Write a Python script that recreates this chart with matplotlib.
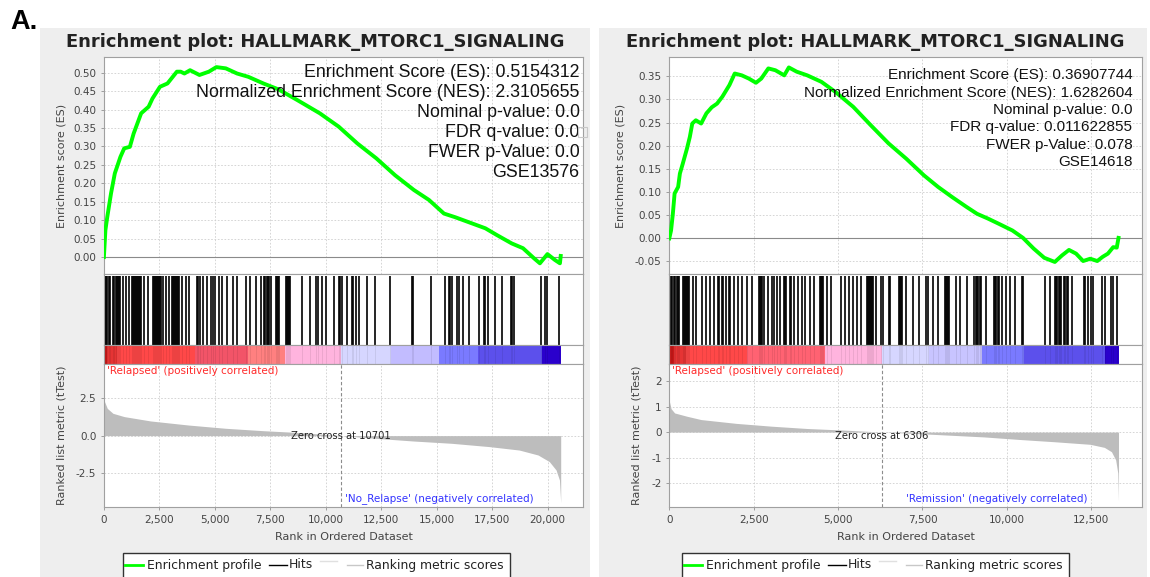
import matplotlib.pyplot as plt
from matplotlib.patches import Rectangle
from matplotlib.lines import Line2D

plt.rcParams['font.family'] = 'DejaVu Sans'
plt.rcParams['axes.unicode_minus'] = False

W, H = 1150, 577
TITLE = 'Enrichment plot: HALLMARK_MTORC1_SIGNALING'

# ---- GSE13576: Relapsed vs No_Relapse ----
left_es_rank = [0, 68, 153, 322, 492, 746, 916, 1170, 1340, 1679, 2018, 2188, 2527, 2866,
                3290, 3460, 3630, 3884, 4308, 4732, 5071, 5495, 6004, 6513, 7191, 7869, 8717,
                9735, 10583, 11431, 12279, 13127, 13975, 14654, 15332, 15841, 16519, 17198,
                17707, 18385, 18894, 19403, 19657, 19996, 20335, 20560, 20595]
left_es = [0.0, 0.073, 0.109, 0.173, 0.227, 0.272, 0.295, 0.299, 0.335, 0.390, 0.408, 0.430,
           0.462, 0.471, 0.503, 0.503, 0.498, 0.507, 0.494, 0.503, 0.5154, 0.512, 0.498, 0.489,
           0.471, 0.455, 0.426, 0.390, 0.354, 0.308, 0.268, 0.222, 0.182, 0.155, 0.118, 0.108,
           0.093, 0.078, 0.060, 0.037, 0.024, -0.004, -0.017, 0.008, -0.008, -0.017, 0.003]
left_hits = [5, 50, 95, 140, 215, 275, 395, 440, 545, 590, 635, 680, 725, 860, 996, 1146,
             1266, 1311, 1356, 1401, 1446, 1491, 1536, 1581, 1626, 1671, 1807, 1972, 2197,
             2242, 2287, 2332, 2378, 2423, 2468, 2513, 2558, 2663, 2798, 2948, 3068, 3113,
             3158, 3203, 3248, 3294, 3339, 3384, 3504, 3684, 3850, 4180, 4240, 4330, 4480,
             4630, 4811, 4931, 5006, 5171, 5321, 5562, 5802, 6012, 6388, 6568, 6838, 7080,
             7230, 7276, 7351, 7396, 7441, 7546, 7741, 7786, 7831, 7876, 8192, 8237, 8282,
             8327, 8372, 8943, 9273, 9559, 9634, 9814, 9994, 10385, 10595, 10655, 10745,
             10956, 11181, 11241, 11346, 11496, 11857, 12217, 12878, 13871, 13946, 14727,
             15358, 15553, 15613, 15673, 15914, 15989, 16199, 16455, 16890, 17115, 17160,
             17311, 17641, 17942, 18347, 18392, 18482, 19684, 19909, 19969, 20525]
left_metric_rank = [0, 20, 153, 407, 916, 2103, 3799, 5495, 7191, 8887, 10701, 12279, 13975,
                    15671, 17367, 18724, 19572, 20081, 20386, 20539, 20595]
left_metric = [2.6, 2.3, 1.82, 1.49, 1.27, 0.98, 0.71, 0.49, 0.33, 0.20, 0.0, -0.18, -0.36,
               -0.51, -0.73, -0.96, -1.29, -1.73, -2.29, -2.96, -4.47]
left_bar_start = [0, 150, 600, 4100, 6500, 8150, 10700, 12950, 15100, 16850, 19750, 20595]
left_bar_colors = ['#c81818', '#e63434', '#ff4848', '#f25468', '#ff8080', '#ffb4de',
                   '#d6d6ff', '#c2bcff', '#7a7aff', '#5c50ec', '#2a00cc']
left_stats = ['Enrichment Score (ES): 0.5154312',
              'Normalized Enrichment Score (NES): 2.3105655',
              'Nominal p-value: 0.0',
              'FDR q-value: 0.0',
              'FWER p-Value: 0.0',
              'GSE13576']
left_es_ticks = [0.00, 0.05, 0.10, 0.15, 0.20, 0.25, 0.30, 0.35, 0.40, 0.45, 0.50]
left_metric_ticks = [-2.5, 0.0, 2.5]
left_metric_labels = ['-2.5', '0.0', '2.5']
left_rank_ticks = [0, 2500, 5000, 7500, 10000, 12500, 15000, 17500, 20000]
left_zero_cross = 10701

# ---- GSE14618: Relapsed vs Remission ----
right_es_rank = [0, 52, 105, 157, 262, 314, 398, 524, 608, 681, 786, 943, 1100, 1257, 1415,
                 1572, 1781, 1938, 2148, 2357, 2567, 2724, 2934, 3143, 3405, 3541, 3772, 4086,
                 4506, 4925, 5449, 5972, 6496, 7020, 7544, 7963, 8382, 8802, 9116, 9430, 9745,
                 10164, 10478, 10792, 11107, 11421, 11631, 11840, 12050, 12259, 12469, 12678,
                 12836, 12993, 13150, 13255, 13307]
right_es = [0.0, 0.017, 0.053, 0.097, 0.111, 0.140, 0.161, 0.194, 0.219, 0.248, 0.255, 0.248,
            0.270, 0.283, 0.291, 0.306, 0.331, 0.356, 0.352, 0.345, 0.336, 0.345, 0.367, 0.363,
            0.352, 0.3691, 0.360, 0.352, 0.338, 0.316, 0.284, 0.244, 0.205, 0.172, 0.136, 0.111,
            0.089, 0.068, 0.053, 0.043, 0.032, 0.017, 0.001, -0.022, -0.042, -0.051, -0.037,
            -0.025, -0.033, -0.049, -0.044, -0.049, -0.040, -0.033, -0.019, -0.020, 0.001]
right_hits = [60, 90, 139, 169, 238, 267, 297, 396, 425, 455, 484, 514, 543, 573, 701, 800,
              958, 1076, 1205, 1333, 1432, 1461, 1550, 1580, 1678, 1767, 1797, 1925, 2024,
              2142, 2310, 2458, 2665, 2695, 2724, 2754, 2813, 2922, 3030, 3109, 3188, 3267,
              3395, 3425, 3455, 3563, 3593, 3701, 3800, 3918, 4017, 4155, 4293, 4451, 4481,
              4520, 4560, 4658, 4796, 5092, 5191, 5329, 5448, 5556, 5684, 5862, 5892, 5921,
              5951, 5981, 6010, 6040, 6119, 6277, 6316, 6494, 6533, 6799, 6829, 6859, 6888,
              7026, 7224, 7401, 7599, 7678, 7816, 7974, 8181, 8210, 8240, 8270, 8299, 8506,
              8605, 8822, 9019, 9079, 9118, 9158, 9197, 9236, 9384, 9611, 9651, 9690, 9730,
              9779, 9858, 9976, 10095, 10233, 10440, 10480, 11121, 11279, 11417, 11457,
              11496, 11536, 11575, 11614, 11693, 11733, 11772, 11812, 11930, 12295, 12325,
              12404, 12483, 12562, 12808, 12897, 13085, 13134, 13272]
right_metric_rank = [0, 52, 157, 524, 943, 1991, 3039, 4086, 5134, 6306, 7230, 8278, 9325,
                     10373, 11421, 12469, 12888, 13098, 13223, 13286, 13307]
right_metric = [1.22, 0.92, 0.75, 0.62, 0.49, 0.34, 0.23, 0.14, 0.08, 0.0, -0.05, -0.12,
                -0.19, -0.29, -0.38, -0.48, -0.60, -0.77, -1.09, -1.61, -2.71]
right_bar_start = [0, 150, 500, 2300, 4600, 6300, 7700, 9250, 10500, 12900, 13307]
right_bar_colors = ['#c81818', '#e63434', '#ff4848', '#ff6272', '#ffb4de', '#d6d6ff',
                    '#c8c4ff', '#7a7aff', '#5c50ec', '#2a00cc']
right_stats = ['Enrichment Score (ES): 0.36907744',
               'Normalized Enrichment Score (NES): 1.6282604',
               'Nominal p-value: 0.0',
               'FDR q-value: 0.011622855',
               'FWER p-Value: 0.078',
               'GSE14618']
right_es_ticks = [-0.05, 0.00, 0.05, 0.10, 0.15, 0.20, 0.25, 0.30, 0.35]
right_metric_ticks = [-2, -1, 0, 1, 2]
right_metric_labels = ['-2', '-1', '0', '1', '2']
right_rank_ticks = [0, 2500, 5000, 7500, 10000, 12500]
right_zero_cross = 6306


def fbox(x0, y0, x1, y1):
    # pixel box (top-left origin) -> figure fraction rect
    return [x0 / W, 1 - y1 / H, (x1 - x0) / W, (y1 - y0) / H]


def ftext(fig, x, y, s, **kw):
    fig.text(x / W, 1 - y / H, s, **kw)


def fline(fig, xs, ys, **kw):
    fig.add_artist(Line2D([x / W for x in xs], [1 - y / H for y in ys],
                          transform=fig.transFigure, **kw))


def frect(fig, x0, y0, x1, y1, **kw):
    fig.add_artist(Rectangle((x0 / W, 1 - y1 / H), (x1 - x0) / W, (y1 - y0) / H,
                             transform=fig.transFigure, **kw))


def style_axes(ax):
    for sp in ax.spines.values():
        sp.set_color('#a0a0a0')
        sp.set_linewidth(0.8)
    ax.tick_params(length=2, width=0.6, color='#909090', labelsize=7.5,
                   labelcolor='#444444', pad=3.5)


def grid(ax):
    ax.grid(True, color='#cfcfcf', lw=0.6, ls=(0, (2, 2)))
    ax.set_axisbelow(True)


def draw_panel(fig, p):
    x0, x1 = p['x0'], p['x1']
    xmax = p['xmax']

    # running enrichment score
    ax = fig.add_axes(fbox(x0, 57.3, x1, 274))
    style_axes(ax)
    grid(ax)
    ax.axhline(0, color='#8a8a8a', lw=0.8, zorder=1)
    ax.plot(p['es_rank'], p['es'], color='#00ff00', lw=2.8, zorder=3)
    ax.set_xlim(0, xmax)
    ax.set_ylim(*p['es_ylim'])
    ax.set_xticks(p['rank_ticks'])
    ax.set_xticklabels([])
    ax.tick_params(axis='x', length=0)
    ax.set_yticks(p['es_ticks'])
    ax.set_yticklabels([f'{v:.2f}' for v in p['es_ticks']])

    # gene set hits
    axh = fig.add_axes(fbox(x0, 274, x1, 345))
    style_axes(axh)
    axh.vlines(p['hits'], 0.0, 0.97, color='black', lw=1.2)
    axh.set_xlim(0, xmax)
    axh.set_ylim(0, 1)
    axh.set_xticks([])
    axh.set_yticks([])

    # ranked list heat bar
    axc = fig.add_axes(fbox(x0, 345, x1, 364))
    style_axes(axc)
    starts = p['bar_start']
    for a, b, c in zip(starts[:-1], starts[1:], p['bar_colors']):
        axc.axvspan(a, b, color=c, lw=0)
    axc.vlines(p['hits'], 0, 1, color='black', lw=0.7, alpha=0.08)
    axc.set_xlim(0, xmax)
    axc.set_ylim(0, 1)
    axc.set_xticks([])
    axc.set_yticks([])

    # ranked list metric
    axm = fig.add_axes(fbox(x0, 364, x1, 507.3))
    style_axes(axm)
    grid(axm)
    axm.fill_between(p['metric_rank'], p['metric'], 0, color='#bdbdbd', lw=0, zorder=2)
    axm.axvline(p['zero_cross'], color='#8c8c8c', lw=0.8, ls=(0, (3, 2)), zorder=3)
    axm.set_xlim(0, xmax)
    axm.set_ylim(*p['metric_ylim'])
    axm.set_yticks(p['metric_ticks'])
    axm.set_yticklabels(p['metric_labels'])
    axm.set_xticks(p['rank_ticks'])
    axm.set_xticklabels([f'{v:,}' for v in p['rank_ticks']])

    # texts
    ftext(fig, p['title_x'], 46.7, TITLE, ha='center', va='baseline', fontsize=12.9,
          weight='bold', color='#222222')
    for i, s in enumerate(p['stats']):
        ftext(fig, p['stat_x'], p['stat_y0'] + i * p['stat_dy'], s, ha='right',
              va='baseline', fontsize=p['stat_size'], family='Liberation Sans', color='#111111')
    ftext(fig, p['es_label_x'], 165.6, 'Enrichment score (ES)', rotation=90, ha='center',
          va='center', fontsize=8, color='#444444')
    ftext(fig, p['m_label_x'], 435.6, 'Ranked list metric (tTest)', rotation=90, ha='center',
          va='center', fontsize=8, color='#444444')
    ftext(fig, (x0 + x1) / 2, 536.7, 'Rank in Ordered Dataset', ha='center', va='center',
          fontsize=8, color='#444444')
    ftext(fig, x0 + 3, 370.5, "'Relapsed' (positively correlated)", ha='left', va='center',
          fontsize=7.5, color='#ff2a2a')
    ftext(fig, p['neg_right'], 498.5, p['neg_label'], ha='right', va='center',
          fontsize=7.5, color='#3333ff')
    zx = x0 + (x1 - x0) * p['zero_cross'] / xmax
    ftext(fig, zx, 436, f"Zero cross at {p['zero_cross']}", ha='center', va='center',
          fontsize=7.2, color='#222222')

    # legend
    bx = p['legend_x']
    frect(fig, bx, 553.3, bx + 387, 590, fc='white', ec='#333333', lw=1, zorder=5)
    fline(fig, [bx + 2.5, bx + 20.5], [565, 565], color='#00ff00', lw=2, zorder=6)
    ftext(fig, bx + 24, 565, 'Enrichment profile', va='center', fontsize=8.9, color='#222222',
          zorder=6)
    fline(fig, [bx + 146.5, bx + 164], [565, 565], color='black', lw=1, zorder=6)
    ftext(fig, bx + 166.5, 565, 'Hits', va='center', fontsize=8.9, color='#222222', zorder=6)
    fline(fig, [bx + 197, bx + 214], [560.7, 560.7], color='#e0e0e0', lw=1, zorder=6)
    fline(fig, [bx + 224, bx + 240.5], [565, 565], color='#c8c8c8', lw=1, zorder=6)
    ftext(fig, bx + 243.5, 565, 'Ranking metric scores', va='center', fontsize=8.9,
          color='#222222', zorder=6)


fig = plt.figure(figsize=(W / 100, H / 100), dpi=100)
frect(fig, 40, 27.5, 590, 577, fc='#eeeeee', lw=0, zorder=-5)
frect(fig, 599, 27.5, 1147, 577, fc='#eeeeee', lw=0, zorder=-5)
ftext(fig, 10.7, 29.3, 'A.', ha='left', va='baseline', fontsize=19.5, weight='bold',
      family='Liberation Sans', color='black')

draw_panel(fig, dict(
    x0=103.9, x1=583, xmax=21600, title_x=315,
    es_rank=left_es_rank, es=left_es, es_ylim=(-0.046, 0.542), es_ticks=left_es_ticks,
    hits=left_hits, bar_start=left_bar_start, bar_colors=left_bar_colors,
    metric_rank=left_metric_rank, metric=left_metric, metric_ylim=(-4.78, 4.78),
    metric_ticks=left_metric_ticks, metric_labels=left_metric_labels,
    rank_ticks=left_rank_ticks, zero_cross=left_zero_cross,
    stats=left_stats, stat_x=579.6, stat_y0=77.3, stat_dy=20, stat_size=12.8,
    es_label_x=61, m_label_x=61.3, neg_right=533.7,
    neg_label="'No_Relapse' (negatively correlated)", legend_x=122.7))

draw_panel(fig, dict(
    x0=669.3, x1=1141.9, xmax=14000, title_x=875,
    es_rank=right_es_rank, es=right_es, es_ylim=(-0.077, 0.391), es_ticks=right_es_ticks,
    hits=right_hits, bar_start=right_bar_start, bar_colors=right_bar_colors,
    metric_rank=right_metric_rank, metric=right_metric, metric_ylim=(-2.95, 2.67),
    metric_ticks=right_metric_ticks, metric_labels=right_metric_labels,
    rank_ticks=right_rank_ticks, zero_cross=right_zero_cross,
    stats=right_stats, stat_x=1132.3, stat_y0=79, stat_dy=17.5, stat_size=11,
    es_label_x=620.5, m_label_x=636.8, neg_right=1087.7,
    neg_label="'Remission' (negatively correlated)", legend_x=681.7))

# missing-glyph box after the FDR value in the left panel
frect(fig, 577.7, 126.7, 586.5, 137.3, fc='none', ec='#c8c8c8', lw=0.8, zorder=6)

fig.savefig('out.png', dpi=100)
